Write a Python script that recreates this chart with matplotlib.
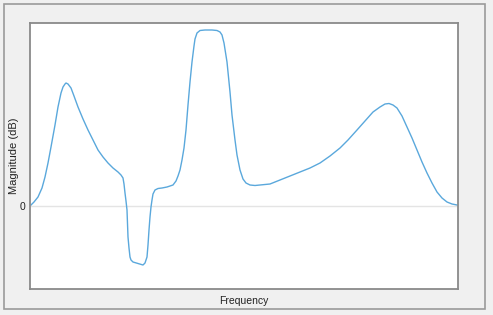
import matplotlib
matplotlib.use("Agg")
import matplotlib.pyplot as plt
from matplotlib.patches import Rectangle

plt.rcParams['font.family'] = ['Liberation Sans', 'DejaVu Sans']

# frequency response (kHz, dB)
freq = [0.05, 0.2, 0.4, 0.6, 0.75, 0.9, 1.05, 1.25, 1.4, 1.55,
        1.65, 1.75, 1.8, 1.9, 2.05, 2.2, 2.4, 2.65, 2.9, 3.15,
        3.4, 3.65, 3.9, 4.15, 4.4, 4.55, 4.65, 4.7, 4.75, 4.8,
        4.85, 4.9, 4.95, 5.0, 5.05, 5.15, 5.4, 5.65, 5.75, 5.85,
        5.9, 5.95, 6.0, 6.05, 6.1, 6.15, 6.25, 6.4, 6.6, 6.85,
        7.15, 7.3, 7.4, 7.5, 7.6, 7.7, 7.8, 7.9, 8.0, 8.1,
        8.2, 8.25, 8.35, 8.5, 8.75, 9.1, 9.35, 9.5, 9.6, 9.7,
        9.85, 10.0, 10.1, 10.25, 10.35, 10.5, 10.65, 10.8, 11.0, 11.25,
        11.5, 12.0, 12.5, 13.0, 13.5, 14.0, 14.5, 15.0, 15.5, 15.9,
        16.35, 16.75, 17.15, 17.5, 17.75, 17.95, 18.15, 18.35, 18.6, 18.85,
        19.1, 19.35, 19.6, 19.85, 20.1, 20.35, 20.6, 20.85, 21.1, 21.35]
mag = [0.1, 0.4, 0.9, 1.8, 2.9, 4.3, 5.9, 8.1, 9.9, 11.3,
       11.9, 12.2, 12.3, 12.2, 11.8, 11.0, 9.9, 8.7, 7.6, 6.6,
       5.6, 4.9, 4.3, 3.8, 3.4, 3.1, 2.8, 2.2, 1.3, 0.5,
       -0.4, -3.1, -4.2, -5.1, -5.4, -5.6, -5.75, -5.9, -5.7, -5.1,
       -3.9, -2.4, -1.1, -0.1, 0.6, 1.2, 1.6, 1.75, 1.8, 1.9,
       2.1, 2.5, 3.0, 3.6, 4.6, 5.8, 7.6, 10.1, 12.4, 14.4,
       16.0, 16.7, 17.3, 17.55, 17.6, 17.6, 17.55, 17.4, 17.1, 16.3,
       14.4, 11.4, 9.1, 6.6, 5.1, 3.6, 2.7, 2.3, 2.1, 2.05,
       2.1, 2.2, 2.6, 3.0, 3.4, 3.8, 4.3, 5.0, 5.8, 6.6,
       7.6, 8.5, 9.4, 9.9, 10.2, 10.25, 10.1, 9.8, 9.0, 7.9,
       6.8, 5.6, 4.4, 3.3, 2.3, 1.4, 0.8, 0.4, 0.2, 0.1]

fig = plt.figure(figsize=(4.93, 3.15), dpi=100, facecolor='#f0f0f0')
fig.patches.append(Rectangle((4 / 493, 6 / 315), 481 / 493, 305 / 315,
                             transform=fig.transFigure, fill=False,
                             edgecolor='#9a9a9a', linewidth=1.2))

ax = fig.add_axes([30 / 493, 26 / 315, 428 / 493, 266 / 315])
ax.plot(freq, mag, color='#5aa8dc', linewidth=1.0)

ax.set_xlim(0, 21.4)
ax.set_ylim(-8.3, 18.3)
ax.set_xticks([])
ax.set_yticks([0])
ax.tick_params(axis='y', length=0, labelsize=7.5, pad=3, labelcolor='#222222')
ax.grid(axis='y', color='#e4e4e4', linewidth=1.0)
ax.set_axisbelow(True)
for s in ax.spines.values():
    s.set_color('#8a8a8a')
    s.set_linewidth(1.3)

ax.set_xlabel('Frequency', fontsize=7.5, labelpad=5, color='#222222')
ax.set_ylabel('Magnitude (dB)', fontsize=8, color='#222222')
ax.yaxis.set_label_coords(-11 / 428, 0.5)

fig.savefig('out.png', dpi=100, facecolor=fig.get_facecolor())
